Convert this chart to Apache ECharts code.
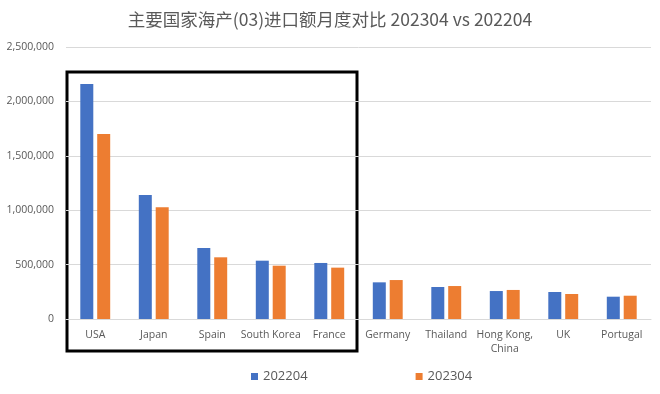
<!DOCTYPE html>
<html><head><meta charset="utf-8">
<script src="https://cdn.jsdelivr.net/npm/echarts@6/dist/echarts.min.js"></script>
<style>html,body{margin:0;padding:0;background:#fff}#c{width:660px;height:394px}</style>
</head><body><div id="c"></div>
<script>
const categories = ['USA','Japan','Spain','South Korea','France','Germany','Thailand','Hong Kong,\nChina','UK','Portugal'];
const s202204 = [2160000,1140000,652000,536000,515000,337000,294000,257000,248000,205000];
const s202304 = [1700000,1027000,567000,490000,472000,358000,303000,267000,230000,214000];
const yTicks = [0,500000,1000000,1500000,2000000,2500000];

const chart = echarts.init(document.getElementById('c'));
const txt = '#595959';
chart.setOption({
  animation:false,
  title:{text:'主要国家海产(03)进口额月度对比 202304 vs 202204',left:'center',top:6,
    textStyle:{fontFamily:'Noto Sans CJK SC',fontSize:17.5,fontWeight:'normal',color:txt}},
  legend:{top:365,left:246,itemGap:108,itemWidth:7,itemHeight:7,icon:'rect',
    textStyle:{fontFamily:'Open Sans',fontSize:13,color:txt}},
  grid:{left:66,right:9,top:47,bottom:75},
  xAxis:{type:'category',data:categories,
    axisLine:{lineStyle:{color:'#d9d9d9'}},axisTick:{show:false},
    axisLabel:{color:txt,fontFamily:'Open Sans',fontSize:10.5,interval:0,margin:9,lineHeight:14}},
  yAxis:{type:'value',min:yTicks[0],max:yTicks[yTicks.length-1],interval:500000,
    axisLine:{show:false},axisTick:{show:false},
    splitLine:{lineStyle:{color:'#d9d9d9'}},
    axisLabel:{color:txt,fontFamily:'Open Sans',fontSize:10.5,margin:12,
      formatter:v=>v.toLocaleString('en-US')}},
  series:[
    {name:'202204',type:'bar',data:s202204,itemStyle:{color:'#4472C4'},barWidth:13,barGap:'30%'},
    {name:'202304',type:'bar',data:s202304,itemStyle:{color:'#ED7D31'},barWidth:13,barGap:'30%'}
  ],
  graphic:[{type:'rect',shape:{x:67,y:72,width:290,height:279},
    style:{fill:'none',stroke:'#000',lineWidth:3}}]
});
</script></body></html>
